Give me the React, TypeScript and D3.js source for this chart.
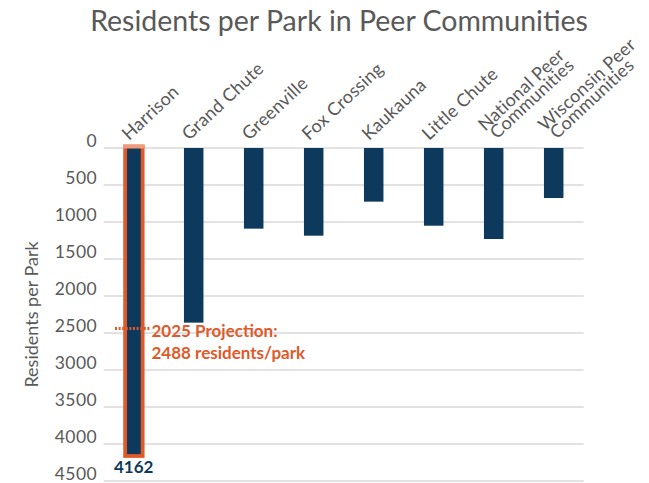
import React from "react";
import * as d3 from "d3";

const categories: string[][] = [
  ["Harrison"],
  ["Grand Chute"],
  ["Greenville"],
  ["Fox Crossing"],
  ["Kaukauna"],
  ["Little Chute"],
  ["National Peer", "Communities"],
  ["Wisconsin Peer", "Communities"],
];
const values: number[] = [4162, 2360, 1090, 1185, 725, 1050, 1230, 676];
const yTicks: number[] = [0, 500, 1000, 1500, 2000, 2500, 3000, 3500, 4000, 4500];
const projectionValue = 2488;
const projectionLines = ["2025 Projection:", "2488 residents/park"];
const highlightIndex = 0;

const W = 649;
const H = 483;
const FONT = "Lato, 'Open Sans', sans-serif";
const GRAY = "#595959";
const NAVY = "#0D3A5C";
const ORANGE = "#E0592A";

export default function App() {
  const margin = { left: 103.7, right: W - 583.7, top: 148, bottom: H - 481 };
  const x = d3
    .scaleBand<number>()
    .domain(categories.map((_, i) => i))
    .range([margin.left, W - margin.right])
    .paddingInner(0.675)
    .paddingOuter(0.3375);
  const y = d3.scaleLinear().domain([0, 4500]).range([margin.top, H - margin.bottom]);
  const bw = x.bandwidth();

  return (
    <svg
      width={W}
      height={H}
      style={{ position: "absolute", left: 0, top: 0, background: "#fff" }}
      fontFamily={FONT}
    >
      <text x={339} y={31} textAnchor="middle" fontSize={28.5} fill={GRAY}>
        Residents per Park in Peer Communities
      </text>

      {yTicks.map((t) => (
        <g key={t}>
          <line
            x1={margin.left}
            x2={W - margin.right}
            y1={y(t)}
            y2={y(t)}
            stroke="#d9d9d9"
            strokeWidth={1.5}
          />
          <text
            x={97}
            y={y(t) - 1}
            textAnchor="end"
            fontSize={17.5}
            fill={GRAY}
            letterSpacing={0.4}
          >
            {t}
          </text>
        </g>
      ))}

      <text
        transform={`translate(38,${(y(0) + y(4500)) / 2}) rotate(-90)`}
        textAnchor="middle"
        fontSize={18}
        fill={GRAY}
      >
        Residents per Park
      </text>

      {values.map((v, i) => {
        const bx = x(i)!;
        if (i === highlightIndex) {
          return (
            <g key={i}>
              <rect
                x={bx + 1.2}
                y={y(0) - 1.5}
                width={bw - 2}
                height={y(v) - y(0) + 1.5}
                fill={NAVY}
                stroke={ORANGE}
                strokeWidth={3.8}
              />
              <line
                x1={bx - 1}
                x2={bx + bw + 1}
                y1={y(0) - 1.5}
                y2={y(0) - 1.5}
                stroke="#EE9C7E"
                strokeWidth={3.8}
              />
            </g>
          );
        }
        return (
          <rect key={i} x={bx} y={y(0)} width={bw} height={y(v) - y(0)} fill={NAVY} />
        );
      })}

      {categories.map((lines, i) => {
        const cx = x(i)! + bw / 2;
        const n = lines.length;
        const tx = n > 1 ? cx + 1 : cx - 4.7;
        const ty = n > 1 ? 142 : 141;
        return (
          <g key={i} transform={`translate(${tx},${ty}) rotate(-43)`}>
            <text fontSize={18} fill={GRAY} textAnchor="start" letterSpacing={0.25}>
              {lines.map((l, j) => (
                <tspan key={j} x={(j - (n - 1)) * 3.3 + (n > 1 ? 3.3 : 0)} y={(j - (n - 1)) * 14}>
                  {l}
                </tspan>
              ))}
            </text>
          </g>
        );
      })}

      <text
        x={x(highlightIndex)! + bw / 2}
        y={473}
        textAnchor="middle"
        fontSize={17}
        fontWeight={700}
        fill={NAVY}
      >
        {values[highlightIndex]}
      </text>

      <line
        x1={115}
        x2={150}
        y1={y(projectionValue) - 3.5}
        y2={y(projectionValue) - 3.5}
        stroke={ORANGE}
        strokeWidth={3}
        strokeDasharray="2,1.6"
      />
      <text fontSize={17} fontWeight={700} fill={ORANGE}>
        {projectionLines.map((l, j) => (
          <tspan key={j} x={151.5} y={337 + j * 22}>
            {l}
          </tspan>
        ))}
      </text>
    </svg>
  );
}
